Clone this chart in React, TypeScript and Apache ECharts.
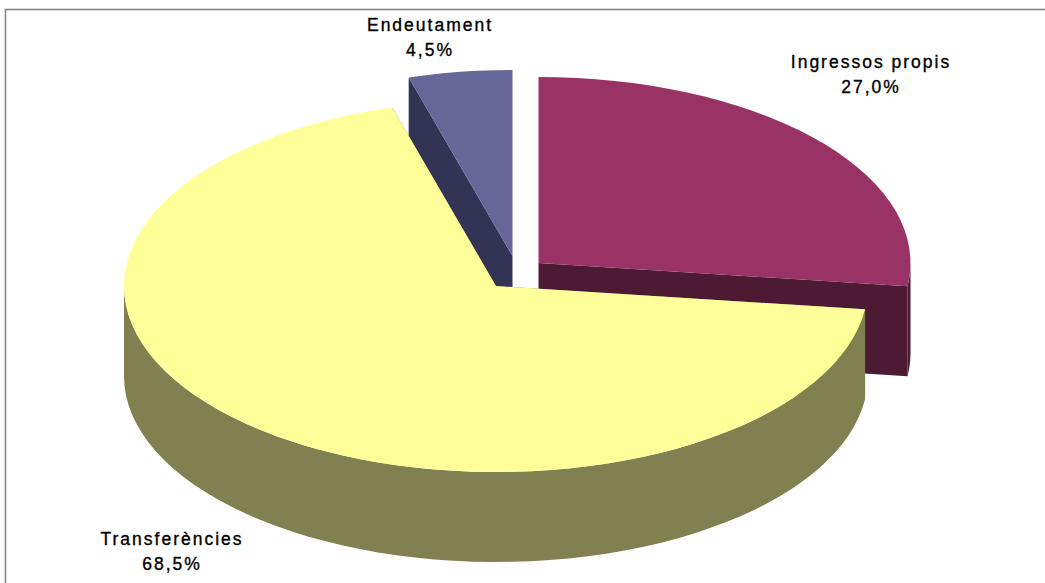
import React, { useEffect, useRef } from "react";
import * as echarts from "echarts";

const categories = ["Ingressos propis", "Transferències", "Endeutament"];
const values = [27.0, 68.5, 4.5];

const topColors = ["#993366", "#FFFF99", "#666699"];
const wallColors = ["#4D1A33", "#808050", "#333355"];
const centers = [[538.5, 263], [496, 286], [512.5, 256]];
const drawOrder = [1, 2, 0];
const labelPos = [[871, 74], [172, 551], [430, 37]];

const RX = 372;
const RY = 186;
const DEPTH = 90;
const STEP = 3;

function arcPoints(cx: number, cy: number, a: number, b: number, dy = 0) {
  const pts: number[][] = [];
  const n = Math.max(1, Math.ceil((b - a) / STEP));
  for (let i = 0; i <= n; i++) {
    const t = ((a + ((b - a) * i) / n) * Math.PI) / 180;
    pts.push([cx + RX * Math.sin(t), cy - RY * Math.cos(t) + dy]);
  }
  return pts;
}

function renderItem(params: any, api: any) {
  const i = params.dataIndex;
  const total = values.reduce((s, v) => s + v, 0);
  let before = 0;
  for (let k = 0; k < i; k++) before += values[k];
  const a = (before / total) * 360;
  const b = a + (Number(api.value(0)) / total) * 360;
  const [cx, cy] = centers[i];
  const base = drawOrder[i] * 10;
  const children: any[] = [];
  const wall = { fill: wallColors[i] };
  const edge = (t: number) => arcPoints(cx, cy, t, t)[0];
  for (const t of [a, b]) {
    const p = edge(t);
    children.push({
      type: "polygon",
      z2: base + 1,
      shape: { points: [[cx, cy], p, [p[0], p[1] + DEPTH], [cx, cy + DEPTH]] },
      style: wall,
    });
  }
  const from = Math.max(a, 90);
  const to = Math.min(b, 270);
  if (to > from) {
    const upper = arcPoints(cx, cy, from, to);
    const lower = arcPoints(cx, cy, from, to, DEPTH).reverse();
    children.push({
      type: "polygon",
      z2: base + 2,
      shape: { points: upper.concat(lower) },
      style: wall,
    });
  }
  children.push({
    type: "polygon",
    z2: base + 3,
    shape: { points: [[cx, cy], ...arcPoints(cx, cy, a, b)] },
    style: { fill: topColors[i] },
  });
  children.push({
    type: "text",
    z2: 100,
    x: labelPos[i][0],
    y: labelPos[i][1],
    style: {
      text: `${categories[i]}\n${values[i].toFixed(1).replace(".", ",")}%`,
      fill: "#000000",
      stroke: "#000000",
      lineWidth: 0.35,
      font: '17.5px "Liberation Sans", sans-serif',
      lineHeight: 25,
      align: "center",
      verticalAlign: "middle",
    },
  });
  return { type: "group", children };
}

export default function App() {
  const ref = useRef<HTMLDivElement>(null);
  useEffect(() => {
    const chart = echarts.init(ref.current!, null, { renderer: "svg" });
    chart.setOption({
      animation: false,
      backgroundColor: "#ffffff",
      graphic: [
        {
          type: "polyline",
          shape: { points: [[5.5, 583], [5.5, 9.5], [1045, 9.5]] },
          style: { fill: "none", stroke: "#808080", lineWidth: 1.5 },
          silent: true,
        },
      ],
      series: [
        {
          type: "custom",
          coordinateSystem: "none",
          renderItem,
          data: values.map((v) => [v]),
          silent: true,
        },
      ],
    });
    return () => chart.dispose();
  }, []);
  return (
    <div
      ref={ref}
      style={{ position: "fixed", left: 0, top: 0, width: 1045, height: 583, letterSpacing: "2px" }}
    />
  );
}
